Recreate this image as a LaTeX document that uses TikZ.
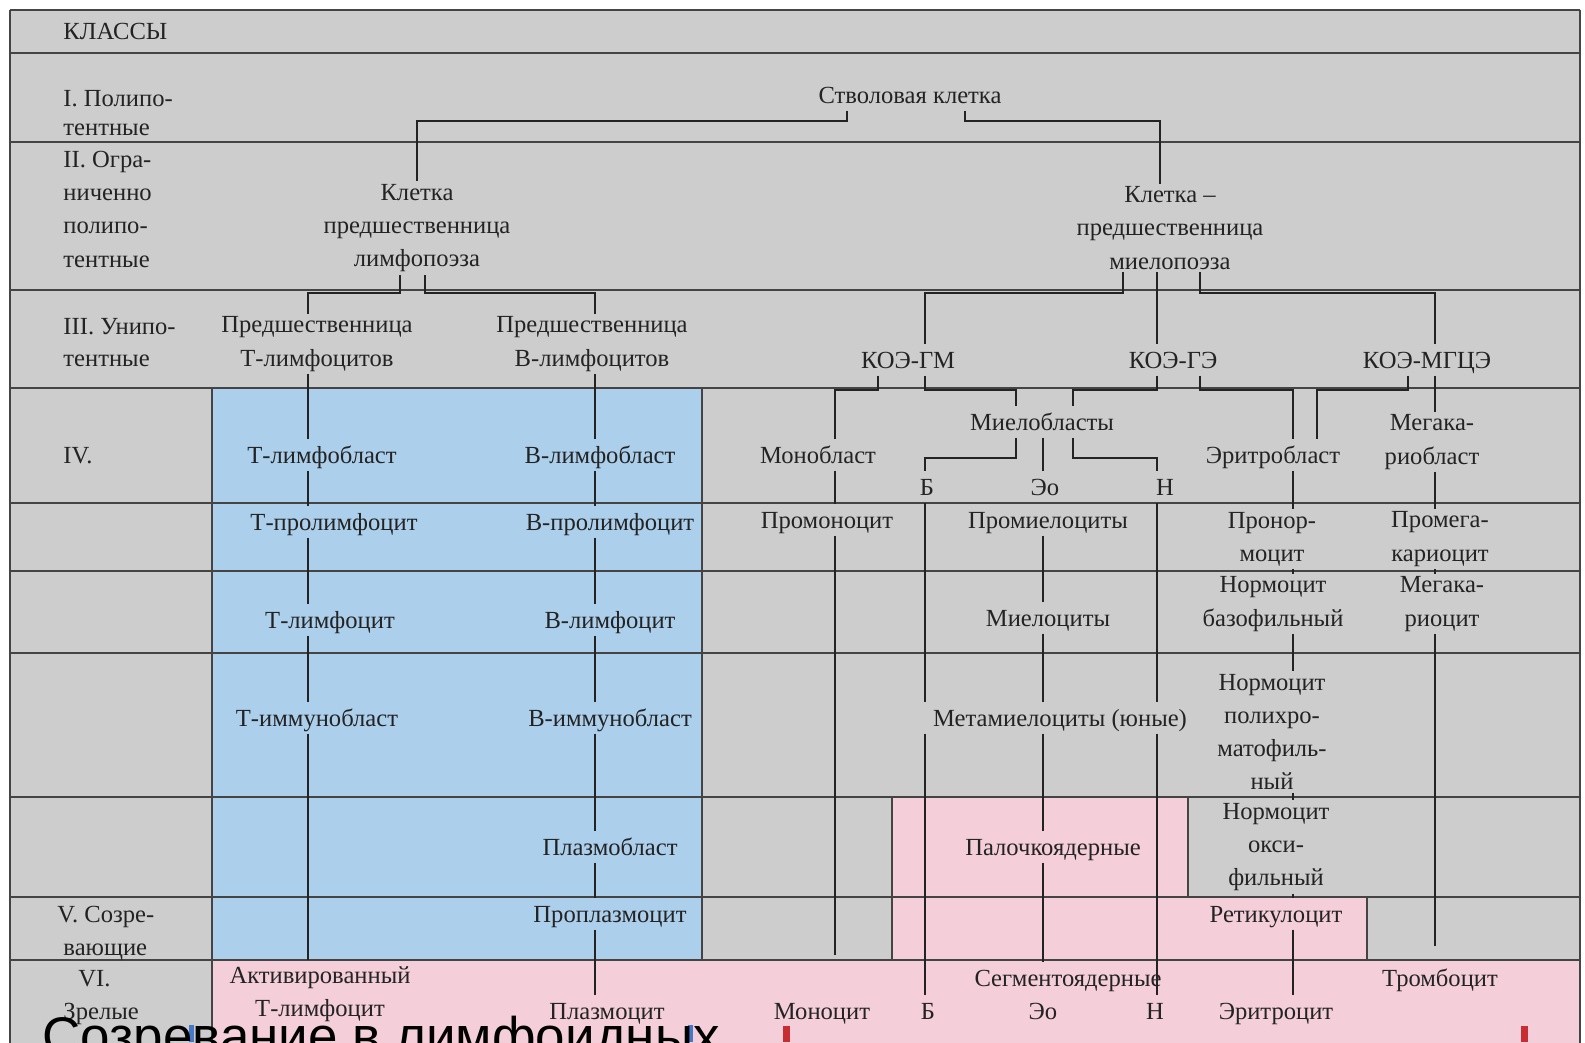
\documentclass[tikz,border=0pt]{standalone}
\usepackage{fontspec}
\setmainfont{Liberation Serif}
\newfontfamily\ovlfont{Liberation Sans}
\usetikzlibrary{calc}
\definecolor{bggray}{RGB}{205,205,205}
\definecolor{lblue}{RGB}{172,207,236}
\definecolor{lpink}{RGB}{244,206,216}
\definecolor{ink}{RGB}{35,35,35}
\definecolor{barred}{RGB}{200,45,50}
\definecolor{barblue}{RGB}{70,120,200}
\begin{document}
\begin{tikzpicture}[x=0.015cm,y=-0.015cm,
  every node/.style={font=\fontsize{10.5}{14.2}\selectfont, text=ink, inner sep=1pt,
    text height=9pt, text depth=2pt},
  cell/.style={align=center, text height=, text depth=},
  lbl/.style={anchor=west, inner sep=0pt},
  gridline/.style={draw=ink!85, line width=0.8pt},
  conn/.style={draw=ink, line width=1.1pt},
]
\useasboundingbox (0,0) rectangle (1585,1042);
% backgrounds
\fill[white] (0,0) rectangle (1585,1042);
\fill[bggray] (10,10) rectangle (1580,1060);
\fill[lblue] (212,388) rectangle (702,960);
\fill[lpink] (212,960) -- (892,960) -- (892,797) -- (1188,797) -- (1188,897) -- (1367,897) -- (1367,960) -- (1580,960) -- (1580,1060) -- (212,1060) -- cycle;
% grid
\foreach \y in {10,53,142,290,388,503,571,653,797,897,960}
  \draw[gridline] (10,\y) -- (1580,\y);
\draw[gridline] (10,10) -- (10,1060);
\draw[gridline] (1580,10) -- (1580,1060);
\draw[gridline] (212,388) -- (212,1060);
\draw[gridline] (702,388) -- (702,960);
\draw[gridline] (892,797) -- (892,960);
\draw[gridline] (1188,797) -- (1188,897);
\draw[gridline] (1367,897) -- (1367,960);

% class labels
\node[lbl] (k0) at (63,31) {КЛАССЫ};
\node[lbl] (k1a) at (63,98) {I. Полипо-};
\node[lbl] (k1b) at (63,127) {тентные};
\node[lbl] (k2a) at (63,159) {II. Огра-};
\node[lbl] (k2b) at (63,192) {ниченно};
\node[lbl] (k2c) at (63,225) {полипо-};
\node[lbl] (k2d) at (63,259) {тентные};
\node[lbl] (k3a) at (63,326) {III. Унипо-};
\node[lbl] (k3b) at (63,358) {тентные};
\node[lbl] (k4) at (63,455) {IV.};
\node[lbl] (k5a) at (57,914) {V. Созре-};
\node[lbl] (k5b) at (63,947) {вающие};
\node[lbl] (k6a) at (78,978) {VI.};
\node[lbl] (k6b) at (63,1011) {Зрелые};

% tree nodes
\node (stem) at (910,95) {Стволовая клетка};
\node[cell] (lpre) at (417,228) {Клетка\\предшественница\\лимфопоэза};
\node[cell] (mpre) at (1170,228) {Клетка –\\предшественница\\миелопоэза};
\node[cell] (tpre) at (317,344) {Предшественница\\Т-лимфоцитов};
\node[cell] (bpre) at (592,344) {Предшественница\\В-лимфоцитов};
\node (kgm) at (908,360) {КОЭ-ГМ};
\node (kge) at (1173,360) {КОЭ-ГЭ};
\node (kmg) at (1427,360) {КОЭ-МГЦЭ};
% T line
\node (t1) at (322,455) {Т-лимфобласт};
\node (t2) at (334,522) {Т-пролимфоцит};
\node (t3) at (330,620) {Т-лимфоцит};
\node (t4) at (317,718) {Т-иммунобласт};
\node[cell] (tact) at (320,994) {Активированный\\Т-лимфоцит};
% B line
\node (b1) at (600,455) {В-лимфобласт};
\node (b2) at (610,522) {В-пролимфоцит};
\node (b3) at (610,620) {В-лимфоцит};
\node (b4) at (610,718) {В-иммунобласт};
\node (b5) at (610,847) {Плазмобласт};
\node (b6) at (610,914) {Проплазмоцит};
\node (b7) at (607,1011) {Плазмоцит};
% mono
\node (mb) at (818,455) {Монобласт};
\node (pm) at (827,520) {Промоноцит};
\node (mono) at (822,1011) {Моноцит};
% granulocytes
\node (myb) at (1042,422) {Миелобласты};
\node (nb) at (927,487) {Б};
\node (neo) at (1045,487) {Эо};
\node (nn) at (1165,487) {Н};
\node (pmy) at (1048,520) {Промиелоциты};
\node (my) at (1048,618) {Миелоциты};
\node (mmy) at (1060,718) {Метамиелоциты (юные)};
\node (pal) at (1053,847) {Палочкоядерные};
\node (seg) at (1068,978) {Сегментоядерные};
\node (bb) at (928,1011) {Б};
\node (beo) at (1043,1011) {Эо};
\node (bn) at (1155,1011) {Н};
% erythro
\node (eb) at (1273,455) {Эритробласт};
\node[cell] (pn) at (1272,539) {Пронор-\\моцит};
\node[cell] (nbas) at (1273,604) {Нормоцит\\базофильный};
\node[cell] (npol) at (1272,732) {Нормоцит\\полихро-\\матофиль-\\ный};
\node[cell] (nox) at (1276,847) {Нормоцит\\окси-\\фильный};
\node (ret) at (1276,914) {Ретикулоцит};
\node (ery) at (1276,1011) {Эритроцит};
% mega
\node[cell] (mkb) at (1432,442) {Мегака-\\риобласт};
\node[cell] (pmk) at (1440,539) {Промега-\\кариоцит};
\node[cell] (mk) at (1442,604) {Мегака-\\риоцит};
\node (thr) at (1440,978) {Тромбоцит};

% column / junction coordinates
\coordinate (xT) at (308,0);
\coordinate (xB) at (595,0);
\coordinate (xM) at (835,0);
\coordinate (xBa) at (925,0);
\coordinate (xG) at (925,0);
\coordinate (xEo) at (1043,0);
\coordinate (xN) at (1157,0);
\coordinate (xE) at (1293,0);
\coordinate (xE2) at (1317,0);
\coordinate (xMk) at (1435,0);
\coordinate (xMp) at (1160,0);
\coordinate (sL) at (847,0);
\coordinate (sR) at (965,0);
\coordinate (lL) at (400,0);
\coordinate (lR) at (425,0);
\coordinate (mL) at (1123,0);
\coordinate (mR) at (1200,0);
\coordinate (gA) at (878,0);
\coordinate (kA) at (1408,0);
\coordinate (yA) at (1016,0);
\coordinate (yB) at (1073,0);
\coordinate (hS) at (0,121);
\coordinate (hL) at (0,293);
\coordinate (h2) at (0,390);
\coordinate (h3) at (0,458);
\coordinate (tend) at (308,960);
\coordinate (mend) at (835,955);
\coordinate (mkend) at (1435,946);

% connectors
\draw[conn] (stem.south -| sL) -- (sL |- hS) -| (lpre.north);
\draw[conn] (stem.south -| sR) -- (sR |- hS) -| (mpre.north -| xMp);
\draw[conn] (lpre.south -| lL) -- (lL |- hL) -| (tpre.north -| xT);
\draw[conn] (lpre.south -| lR) -- (lR |- hL) -| (bpre.north -| xB);
\draw[conn] (mpre.south -| mL) -- (mL |- hL) -| (kgm.north -| xG);
\draw[conn] (mpre.south -| xN) -- (kge.north -| xN);
\draw[conn] (mpre.south -| mR) -- (mR |- hL) -| (kmg.north -| xMk);
\draw[conn] (kgm.south -| gA) -- (gA |- h2) -| (mb.north -| xM);
\draw[conn] (kgm.south -| xG) -- (xG |- h2) -| (myb.north -| yA);
\draw[conn] (kge.south -| xN) -- (xN |- h2) -| (myb.north -| yB);
\draw[conn] (kge.south -| mR) -- (mR |- h2) -| (eb.north -| xE);
\draw[conn] (kmg.south -| kA) -- (kA |- h2) -| (eb.north -| xE2);
\draw[conn] (kmg.south -| xMk) -- (mkb.north -| xMk);
\draw[conn] (myb.south -| yA) -- (yA |- h3) -| (nb.north -| xBa);
\draw[conn] (myb.south -| xEo) -- (neo.north -| xEo);
\draw[conn] (myb.south -| yB) -- (yB |- h3) -| (nn.north -| xN);
% T column
\foreach \a/\b in {tpre/t1,t1/t2,t2/t3,t3/t4}
  \draw[conn] (\a.south -| xT) -- (\b.north -| xT);
\draw[conn] (t4.south -| xT) -- (tend);
% B column
\foreach \a/\b in {bpre/b1,b1/b2,b2/b3,b3/b4,b4/b5,b5/b6,b6/b7}
  \draw[conn] (\a.south -| xB) -- (\b.north -| xB);
% mono
\draw[conn] (mb.south -| xM) -- (pm.north -| xM);
\draw[conn] (pm.south -| xM) -- (mend);
% B / N
\draw[conn] (nb.south -| xBa) -- (mmy.north -| xBa);
\draw[conn] (mmy.south -| xBa) -- (bb.north -| xBa);
\draw[conn] (nn.south -| xN) -- (mmy.north -| xN);
\draw[conn] (mmy.south -| xN) -- (bn.north -| xN);
% Eo
\foreach \a/\b in {pmy/my,my/mmy,mmy/pal,pal/seg}
  \draw[conn] (\a.south -| xEo) -- (\b.north -| xEo);
% erythro
\foreach \a/\b in {eb/pn,pn/nbas,nbas/npol,npol/nox,nox/ret,ret/ery}
  \draw[conn] (\a.south -| xE) -- (\b.north -| xE);
% mega
\foreach \a/\b in {mkb/pmk,pmk/mk}
  \draw[conn] (\a.south -| xMk) -- (\b.north -| xMk);
\draw[conn] (mk.south -| xMk) -- (mkend);

% bottom marks and overlay caption
\fill[barblue] (189,1025) rectangle (194,1042);
\fill[barblue] (688,1025) rectangle (693,1042);
\fill[barred] (783,1026) rectangle (790,1042);
\fill[barred] (1521,1026) rectangle (1528,1042);
\node[anchor=base west, inner sep=0pt, text=black, text height=, text depth=, font=\ovlfont\fontsize{22.6}{22.6}\selectfont] (ovl) at (42,1054) {Созревание в лимфоидных};
\end{tikzpicture}
\end{document}
